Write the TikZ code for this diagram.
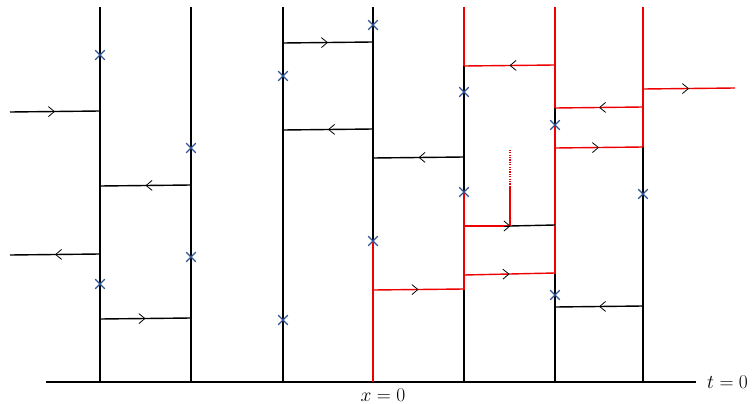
\RequirePackage{fix-cm}
\documentclass[tikz,border=0pt]{standalone}
\usetikzlibrary{arrows.meta,decorations.markings,shapes.misc}
\definecolor{pathred}{RGB}{238,0,0}
\definecolor{flipblue}{RGB}{47,85,151}
\newcommand{\biglabel}[1]{{\fontsize{19.5}{23}\selectfont$#1$}}
\begin{document}
\begin{tikzpicture}[x=1pt,y=-1pt,
  worldline/.style={black,line width=1.4pt},
  hot/.style={pathred,line width=1.6pt},
  rung/.style={line width=1.4pt,postaction={decorate},
    decoration={markings,mark=at position 0.5 with
      {\arrow[black,line width=0.8pt]{Straight Barb[length=6pt,width=10pt]}}}},
  flip/.style={cross out,draw=flipblue,line width=1.1pt,minimum size=8.5pt,inner sep=0pt},
  lbl/.style={inner sep=0pt}]
\useasboundingbox (0,0) rectangle (752,404);

% time axis
\coordinate (a0) at (46,382);
\coordinate (a1) at (696,382);
\draw[black,line width=1.3pt] (a0) -- (a1);
\node[lbl,anchor=west] (tlab) at (707,382) {\biglabel{t=0}};
\node[lbl] (xlab) at (383,395) {\biglabel{x=0}};

% world lines (black parts)
\foreach \x in {100,191,283,373,464,555,643}
  \draw[worldline] (\x,7) -- (\x,382);

% red portions of world lines
\draw[hot] (373,241) -- (373,382);
\draw[hot] (464,7) -- (464,66);
\draw[hot] (464,192) -- (464,290);
\draw[hot] (555,7) -- (555,108);
\draw[hot] (555,125) -- (555,274);
\draw[hot] (643,7) -- (643,147);

% black rungs
\draw[rung,black] (10,112) -- (100,111);
\draw[rung,black] (191,185) -- (100,186);
\draw[rung,black] (100,254) -- (10,255);
\draw[rung,black] (100,319) -- (191,318);
\draw[rung,black] (283,43) -- (373,42);
\draw[rung,black] (373,129) -- (283,130);
\draw[rung,black] (464,157) -- (373,158);
\draw[rung,black] (643,306) -- (555,307);

% red rungs
\draw[rung,pathred] (373,290) -- (464,289);
\draw[rung,pathred] (555,65) -- (464,66);
\draw[rung,pathred] (643,107) -- (555,108);
\draw[rung,pathred] (555,148) -- (643,147);
\draw[rung,pathred] (643,89) -- (735,88);
\draw[rung,pathred] (464,275) -- (555,273);

% split rung with short red stub
\draw[black,line width=1.4pt] (510,226) -- (555,225);
\draw[pathred,line width=1.4pt] (464,226) -- (510,226);
\draw[pathred,line width=1.6pt] (510,226) -- (510,187);
\draw[pathred,line width=1.2pt,dash pattern=on 1.2pt off 1.2pt] (510,187) -- (510,149);
\draw[black,line width=0.8pt,-{Straight Barb[length=6pt,width=10pt]}] (504,226) -- (510.5,226);

% spin flips
\foreach \p/\n in {{100,55}/f1,{191,148}/f2,{191,257}/f3,{100,284}/f4,
                   {283,76}/f5,{373,25}/f6,{283,320}/f7,{373,241}/f8,
                   {464,92}/f9,{464,192}/f10,{555,125}/f11,{555,295}/f12,
                   {643,194}/f13}
  \node[flip] (\n) at (\p) {};
\end{tikzpicture}
\end{document}
